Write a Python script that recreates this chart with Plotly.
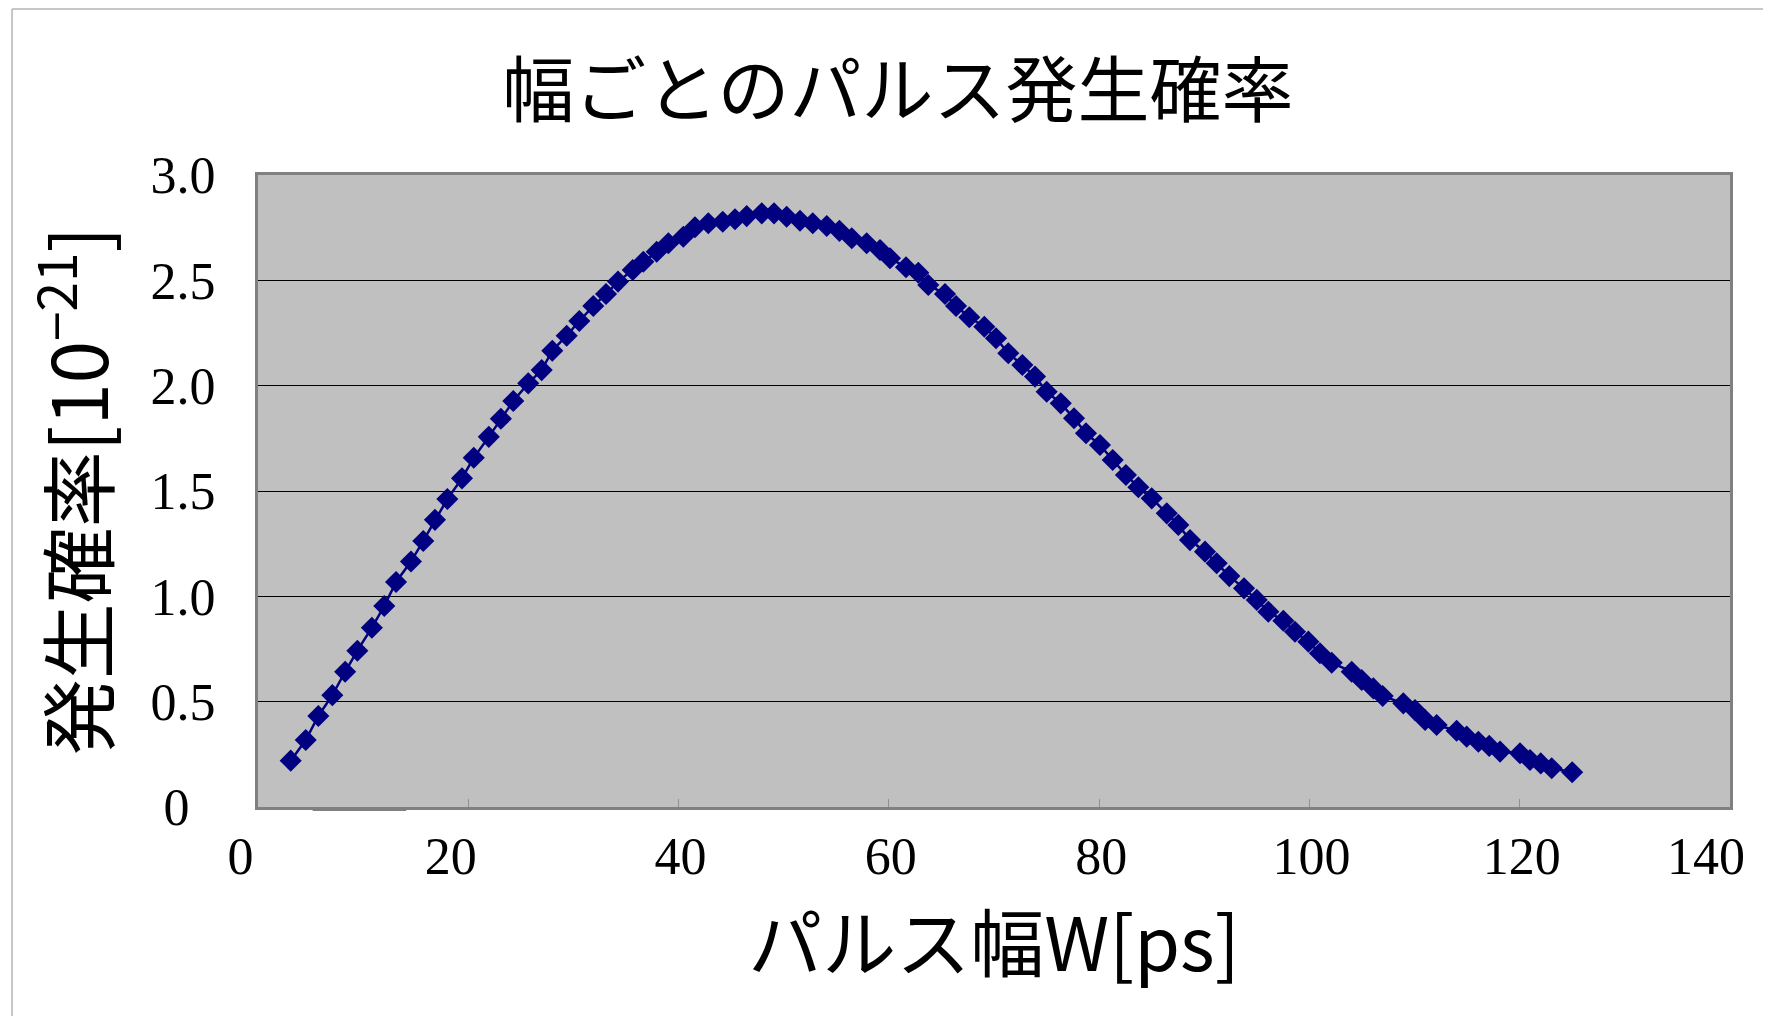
import plotly.graph_objects as go

# ---- data ----
pulse_width_ps = [3.11, 4.54, 5.74, 7.07, 8.29, 9.45, 10.83, 12.01, 13.13, 14.55,
                  15.72, 16.83, 18.01, 19.40, 20.52, 21.95, 23.10, 24.28, 25.70,
                  26.98, 27.99, 29.36, 30.56, 31.89, 33.10, 34.24, 35.64, 36.65,
                  37.92, 39.03, 40.45, 41.56, 42.83, 44.20, 45.37, 46.48, 47.91,
                  49.08, 50.28, 51.55, 52.76, 54.09, 55.30,
                  56.47, 57.89, 59.16, 60.11, 61.63, 62.80, 63.75, 65.34, 66.39,
                  67.65, 69.08, 70.19, 71.36, 72.70, 73.90, 75.01, 76.35, 77.61,
                  78.75, 80.08, 81.29, 82.55,
                  83.73, 85.00, 86.43, 87.53, 88.64, 90.07, 91.18, 92.38, 93.78,
                  94.99, 96.09, 97.52, 98.63, 99.90, 101.00, 102.12, 104.02,
                  104.97, 106.08, 106.97,
                  108.93, 110.04, 111.00, 112.10, 114.00, 114.96, 116.07, 117.10,
                  118.13, 120.03, 120.98, 122.00, 123.04, 124.99]
probability = [0.220, 0.318, 0.432, 0.531, 0.642, 0.742, 0.851, 0.954, 1.068, 1.165,
               1.263, 1.363, 1.462, 1.560, 1.658, 1.757, 1.843, 1.927, 2.011,
               2.074, 2.166, 2.237, 2.307, 2.378, 2.435, 2.494, 2.549, 2.588,
               2.636, 2.676, 2.707, 2.752, 2.771, 2.778, 2.790, 2.805, 2.818,
               2.818, 2.802, 2.783, 2.771, 2.758, 2.735,
               2.700, 2.676, 2.644, 2.605, 2.562, 2.536, 2.478, 2.435, 2.378,
               2.325, 2.280, 2.225, 2.154, 2.098, 2.043, 1.971, 1.916, 1.845,
               1.774, 1.718, 1.647, 1.576,
               1.518, 1.465, 1.394, 1.339, 1.267, 1.212, 1.157, 1.096, 1.038,
               0.983, 0.927, 0.884, 0.832, 0.785, 0.730, 0.685, 0.642,
               0.603, 0.563, 0.527,
               0.492, 0.460, 0.413, 0.389, 0.362, 0.334, 0.310, 0.290,
               0.263, 0.255, 0.223, 0.207, 0.184, 0.165]

NB = "\u00a0"
y_tick_vals = [0, 0.5, 1.0, 1.5, 2.0, 2.5, 3.0]
y_tick_text = ["0" + NB * 2, "0.5", "1.0", "1.5", "2.0", "2.5", "3.0"]
x_tick_vals = [0, 20, 40, 60, 80, 100, 120, 140]
x_tick_text = [NB + "0", NB + "20", NB * 4 + "40", NB * 4 + "60", NB * 4 + "80",
               NB * 4 + "100", NB * 4 + "120", "140"]

title_text = "幅ごとのパルス発生確率"
x_title = "パルス幅W[ps]"
y_title = "発生確率[10<sup>−21</sup>]"

JP = "Noto Sans CJK JP"
SERIF = "Liberation Serif, Times New Roman, serif"
NAVY = "#000080"

fig = go.Figure()
fig.add_trace(go.Scatter(
    x=pulse_width_ps, y=probability, mode="lines+markers",
    line=dict(color=NAVY, width=2.5),
    marker=dict(symbol="diamond", size=17, color=NAVY, line=dict(width=0)),
    showlegend=False, hoverinfo="x+y",
))

fig.update_layout(
    width=1771, height=1016, autosize=False,
    margin=dict(l=250, r=49, t=167, b=217, autoexpand=False),
    paper_bgcolor="white", plot_bgcolor="#C0C0C0",
    title=dict(text=title_text, font=dict(family=JP, size=72, color="black"),
               x=0.5025, xanchor="center", xref="container",
               y=1 - 83 / 1016, yanchor="middle", yref="container"),
    xaxis=dict(range=[0, 140], tickvals=x_tick_vals, ticktext=x_tick_text,
               automargin=False,
               showgrid=False, zeroline=False,
               showline=True, linecolor="#808080", linewidth=3, mirror=True,
               ticks="inside", ticklen=8, tickcolor="#909090", tickwidth=1,
               ticklabelstandoff=2, ticklabelshift=-24, ticklabeloverflow="allow",
               tickfont=dict(family=SERIF, size=52, color="black"),
               title=dict(text=x_title, font=dict(family=JP, size=74, color="black"),
                          standoff=20)),
    yaxis=dict(range=[0, 3.0], tickvals=y_tick_vals, ticktext=y_tick_text,
               automargin=False,
               showgrid=True, gridcolor="black", gridwidth=1, zeroline=False,
               showline=True, linecolor="#808080", linewidth=3, mirror=True,
               ticks="", ticklabelstandoff=29, ticklabeloverflow="allow",
               tickfont=dict(family=SERIF, size=52, color="black"),
               title=dict(text=y_title, font=dict(family=JP, size=76, color="black"),
                          standoff=17)),
)

# outer chart frame (top and left edges) and small grey mark below the axis
fig.add_shape(type="line", xref="paper", yref="paper",
              x0=-0.1671, x1=1.04, y0=1.2627, y1=1.2627,
              line=dict(color="#b4b4b4", width=1.5))
fig.add_shape(type="line", xref="paper", yref="paper",
              x0=-0.1671, x1=-0.1671, y0=1.2627, y1=-0.34,
              line=dict(color="#b4b4b4", width=1.5))
fig.add_shape(type="line", xref="x", yref="paper",
              x0=5.2, x1=14.1, y0=-0.004, y1=-0.004,
              line=dict(color="#808080", width=3))

fig.write_html("out.html")
